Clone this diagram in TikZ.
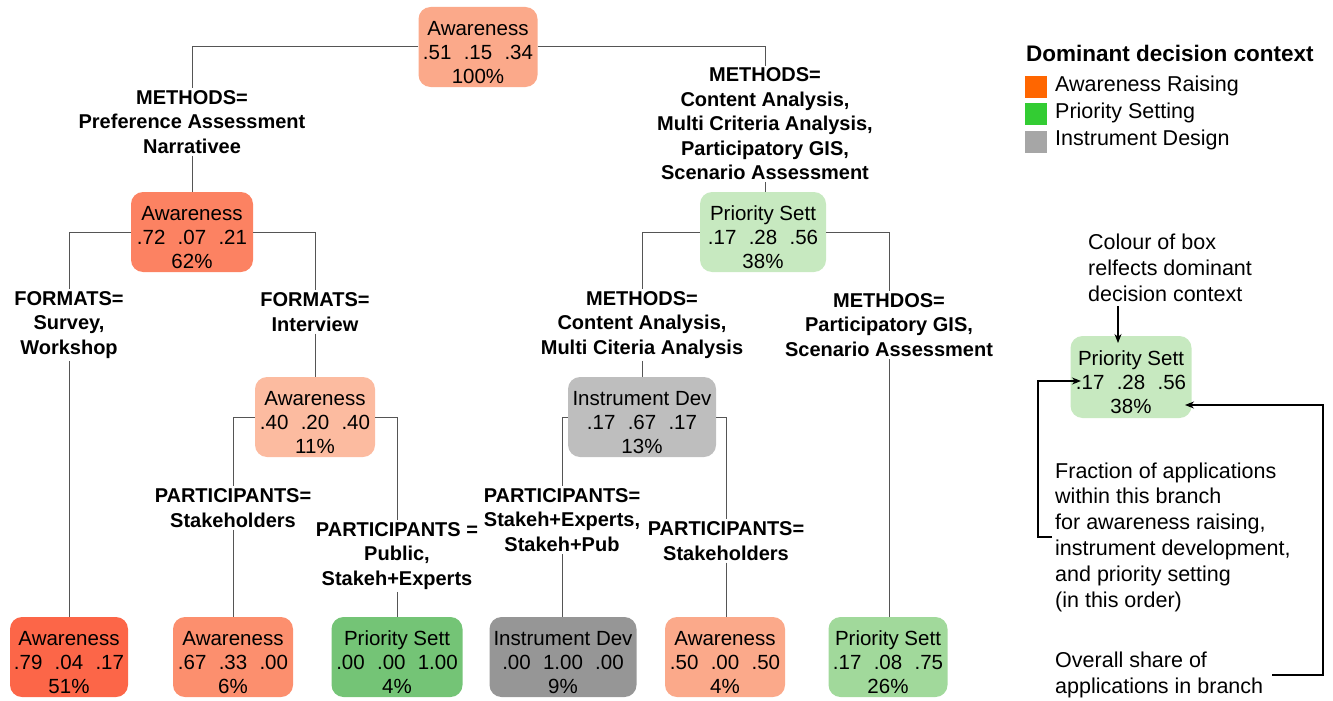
\documentclass[tikz,border=0pt]{standalone}
\usepackage{fontspec}
\setmainfont{Liberation Sans}
\usetikzlibrary{arrows.meta}
\definecolor{cRoot}{HTML}{FBA98A}
\definecolor{cN62}{HTML}{FC8262}
\definecolor{cN11}{HTML}{FCBBA0}
\definecolor{cL51}{HTML}{FC6648}
\definecolor{cL6}{HTML}{FC8F6E}
\definecolor{cL4a}{HTML}{FBA98A}
\definecolor{cN38}{HTML}{C7E9C0}
\definecolor{cL4g}{HTML}{74C476}
\definecolor{cL26}{HTML}{A1D99B}
\definecolor{cN13}{HTML}{BEBEBE}
\definecolor{cL9}{HTML}{969696}
\definecolor{legO}{HTML}{FF6600}
\definecolor{legG}{HTML}{33CC33}
\definecolor{legY}{HTML}{A6A6A6}
\definecolor{treeline}{HTML}{555555}
\newcommand{\gp}{\hspace{0.6em}}
\newcommand{\tst}{\rule{0pt}{25pt}}
\tikzset{
  tnode/.style={rounded corners=12pt, minimum height=80pt, inner sep=0pt, align=center,
    font=\fontsize{20.5}{24}\selectfont},
  lbl/.style={align=center, inner xsep=1pt, inner ysep=2pt, font=\bfseries\fontsize{20}{24.5}\selectfont},
  edge/.style={draw=treeline, line width=1pt},
  note/.style={align=left, anchor=west, inner sep=0pt, font=\fontsize{21.5}{25.8}\selectfont},
  arr/.style={draw=black, line width=1.1pt, -{Stealth[length=9pt,width=7pt]}},
  legsq/.style={minimum width=22pt, minimum height=22pt, inner sep=0pt},
  legtxt/.style={anchor=west, inner sep=0pt, font=\fontsize{21.5}{25}\selectfont}
}
\begin{document}
\begin{tikzpicture}[x=1pt,y=-1pt]
\useasboundingbox (0,0) rectangle (1333,701);
% tree nodes
\node[tnode, fill=cRoot, minimum width=119pt] (root) at (478,47) {\tst Awareness\\.51\gp.15\gp.34\\100\%};
\node[tnode, fill=cN62, minimum width=122pt] (n62) at (192,232) {\tst Awareness\\.72\gp.07\gp.21\\62\%};
\node[tnode, fill=cN38, minimum width=126pt] (n38) at (763,232) {\tst Priority Sett\\.17\gp.28\gp.56\\38\%};
\node[tnode, fill=cN11, minimum width=120pt] (n11) at (315,417) {\tst Awareness\\.40\gp.20\gp.40\\11\%};
\node[tnode, fill=cN13, minimum width=148pt] (n13) at (642,417) {\tst Instrument Dev\\.17\gp.67\gp.17\\13\%};
\node[tnode, fill=cL51, minimum width=118pt] (l51) at (69,657) {\tst Awareness\\.79\gp.04\gp.17\\51\%};
\node[tnode, fill=cL6, minimum width=120pt] (l6) at (233,657) {\tst Awareness\\.67\gp.33\gp.00\\6\%};
\node[tnode, fill=cL4g, minimum width=131pt] (l4g) at (397,657) {\tst Priority Sett\\.00\gp.00\gp1.00\\4\%};
\node[tnode, fill=cL9, minimum width=147pt] (l9) at (563,657) {\tst Instrument Dev\\.00\gp1.00\gp.00\\9\%};
\node[tnode, fill=cL4a, minimum width=120pt] (l4a) at (725,657) {\tst Awareness\\.50\gp.00\gp.50\\4\%};
\node[tnode, fill=cL26, minimum width=119pt] (l26) at (888,657) {\tst Priority Sett\\.17\gp.08\gp.75\\26\%};
% split labels
\node[lbl] (L1) at (192,122) {METHODS=\\Preference Assessment\\Narrativee};
\node[lbl] (R1) at (765,124) {METHODS=\\Content Analysis,\\Multi Criteria Analysis,\\Participatory GIS,\\Scenario Assessment};
\node[lbl] (F1) at (69,325) {FORMATS=\\Survey,\\Workshop};
\node[lbl] (F2) at (315,312) {FORMATS=\\Interview};
\node[lbl] (M2) at (642,325) {METHODS=\\Content Analysis,\\Multi Citeria Analysis};
\node[lbl] (M3) at (889,325) {METHDOS=\\Participatory GIS,\\Scenario Assessment};
\node[lbl] (P1) at (233,508) {PARTICIPANTS=\\Stakeholders};
\node[lbl] (P2) at (397,556) {PARTICIPANTS =\\Public,\\Stakeh+Experts};
\node[lbl] (P3) at (562,520) {PARTICIPANTS=\\Stakeh+Experts,\\Stakeh+Pub};
\node[lbl] (P4) at (726,541) {PARTICIPANTS=\\Stakeholders};
% connectors
\draw[edge] (root.west) -| (L1.north);
\draw[edge] (L1.south) -- (n62.north);
\draw[edge] (root.east) -| (R1.north);
\draw[edge] (R1.south) -- (R1.south |- n38.north);
\draw[edge] (n62.west) -| (F1.north);
\draw[edge] (F1.south) -- (l51.north);
\draw[edge] (n62.east) -| (F2.north);
\draw[edge] (F2.south) -- (n11.north);
\draw[edge] (n38.west) -| (M2.north);
\draw[edge] (M2.south) -- (n13.north);
\draw[edge] (n38.east) -| (M3.north);
\draw[edge] (M3.south) -- (M3.south |- l26.north);
\draw[edge] (n11.west) -| (P1.north);
\draw[edge] (P1.south) -- (l6.north);
\draw[edge] (n11.east) -| (P2.north);
\draw[edge] (P2.south) -- (l4g.north);
\draw[edge] (n13.west) -| (P3.north);
\draw[edge] (P3.south) -- (P3.south |- l9.north);
\draw[edge] (n13.east) -| (P4.north);
\draw[edge] (P4.south) -- (P4.south |- l4a.north);
% legend
\node[anchor=west, inner sep=0pt, font=\bfseries\fontsize{22.5}{26}\selectfont] (legT) at (1026,53) {Dominant decision context};
\node[legsq, fill=legO] (sqA) at (1036,87) {};
\node[legsq, fill=legG] (sqB) at (1036,114) {};
\node[legsq, fill=legY] (sqC) at (1036,142) {};
\node[legtxt] (tA) at (1055,86) {Awareness Raising};
\node[legtxt] (tB) at (1055,113) {Priority Setting};
\node[legtxt] (tC) at (1055,140) {Instrument Design};
% explanation
\node[note] (col) at (1088,268) {Colour of box\\relfects dominant\\decision context};
\node[tnode, fill=cN38, minimum width=121pt, minimum height=82pt] (ex) at (1131,377) {\tst Priority Sett\\.17\gp.28\gp.56\\38\%};
\node[note] (frac) at (1055,537) {Fraction of applications\\within this branch\\for awareness raising,\\instrument development,\\and priority setting\\(in this order)};
\node[note] (ovr) at (1055,675) {Overall share of\\applications in branch};
\coordinate (c1s) at (1118,306);
\coordinate (c1e) at (1118,343);
\draw[arr] (c1s) -- (c1e);
\coordinate (k1) at (1038,537);
\coordinate (t1) at (1081,381);
\draw[arr] ([xshift=-3pt]frac.west) -- (k1) |- (t1);
\coordinate (k2) at (1323,675);
\coordinate (t2) at (1185,405);
\draw[arr] ([xshift=9pt]ovr.east) -- (k2) |- (t2);
\end{tikzpicture}
\end{document}
